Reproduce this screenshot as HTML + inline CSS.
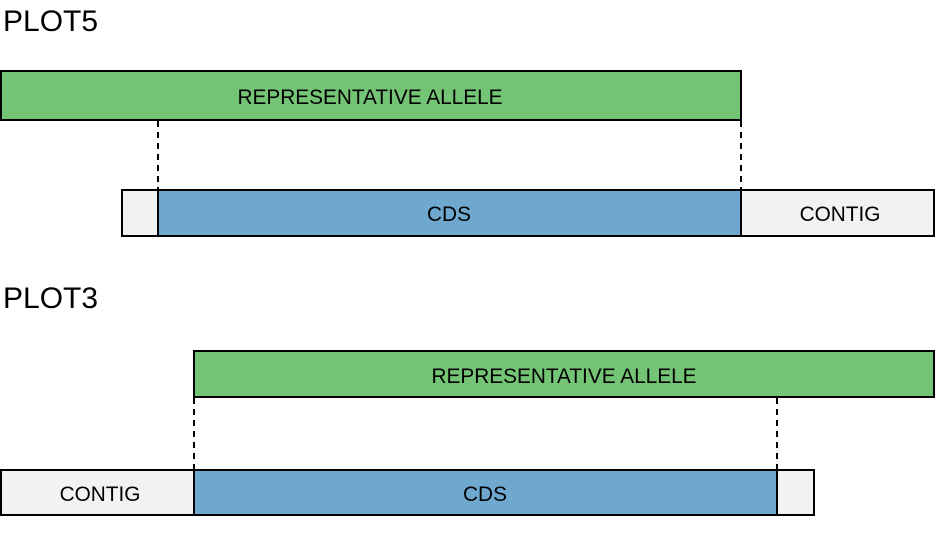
<!DOCTYPE html>
<html><head><meta charset="utf-8"><style>
html,body{margin:0;padding:0;background:#fff;width:936px;height:546px;overflow:hidden}
text{font-family:"Liberation Sans",Arial,sans-serif;fill:#000}
</style></head><body>
<svg width="936" height="546" viewBox="0 0 936 546" xmlns="http://www.w3.org/2000/svg">
<text x="3" y="31" font-size="30">PLOT5</text>
<rect x="1" y="71" width="740" height="49" fill="#74c476" stroke="#000" stroke-width="2"/>
<text x="370" y="104" font-size="20.8" text-anchor="middle">REPRESENTATIVE ALLELE</text>
<line x1="158" y1="121" x2="158" y2="190" stroke="#000" stroke-width="2" stroke-dasharray="6,5"/>
<line x1="741" y1="121" x2="741" y2="190" stroke="#000" stroke-width="2" stroke-dasharray="6,5"/>
<rect x="122" y="190" width="812" height="46" fill="#f2f2f2" stroke="#000" stroke-width="2"/>
<rect x="158" y="190" width="583" height="46" fill="#6fa8cf" stroke="#000" stroke-width="2"/>
<text x="449" y="221" font-size="20.8" text-anchor="middle">CDS</text>
<text x="840" y="221" font-size="20.8" text-anchor="middle">CONTIG</text>

<text x="3" y="308" font-size="30">PLOT3</text>
<rect x="194" y="351" width="740" height="46" fill="#74c476" stroke="#000" stroke-width="2"/>
<text x="564" y="383" font-size="20.8" text-anchor="middle">REPRESENTATIVE ALLELE</text>
<line x1="194" y1="398" x2="194" y2="470" stroke="#000" stroke-width="2" stroke-dasharray="6,5"/>
<line x1="777" y1="398" x2="777" y2="470" stroke="#000" stroke-width="2" stroke-dasharray="6,5"/>
<rect x="1" y="470" width="813" height="45" fill="#f2f2f2" stroke="#000" stroke-width="2"/>
<rect x="194" y="470" width="583" height="45" fill="#6fa8cf" stroke="#000" stroke-width="2"/>
<text x="485" y="501" font-size="20.8" text-anchor="middle">CDS</text>
<text x="100" y="501" font-size="20.8" text-anchor="middle">CONTIG</text>
</svg>
</body></html>
